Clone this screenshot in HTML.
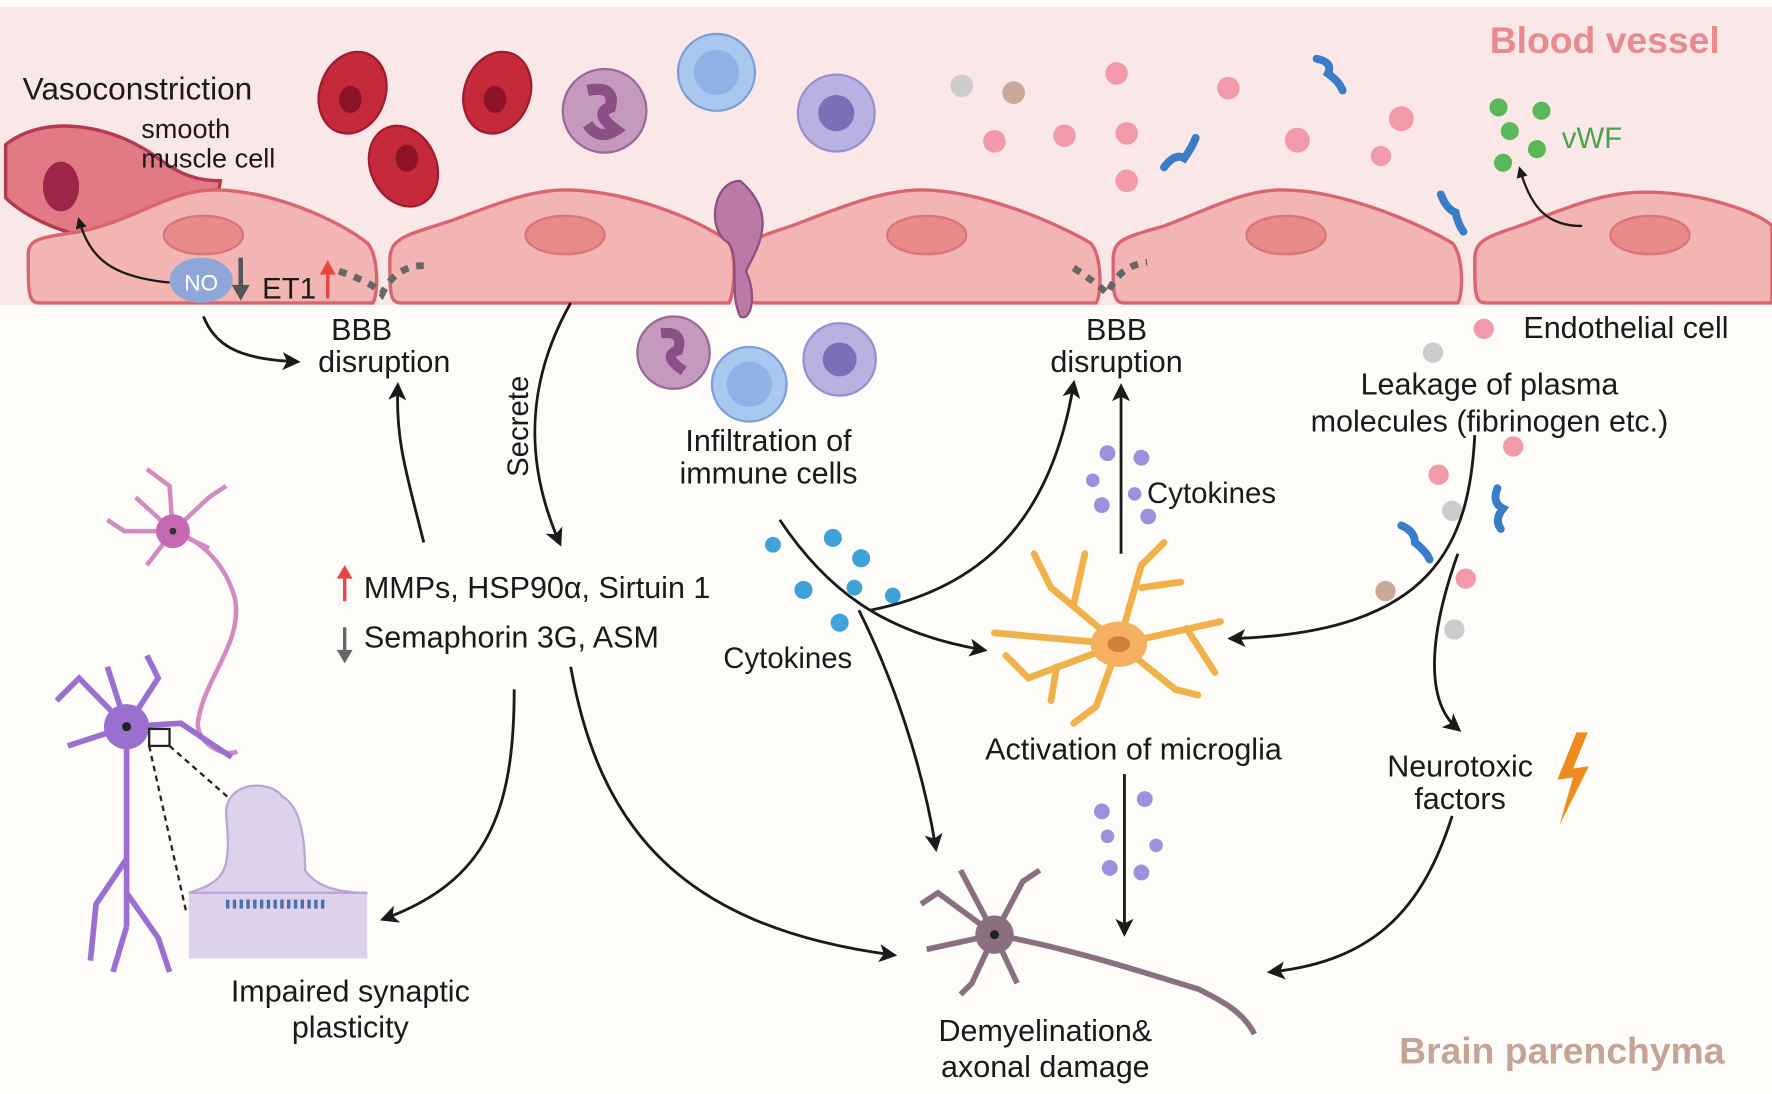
<!DOCTYPE html>
<html><head><meta charset="utf-8"><style>
html,body{margin:0;padding:0;background:#fdfcf9;}
svg{display:block;}
text{font-family:"Liberation Sans",sans-serif;fill:#1a1a1a;}
</style></head><body>
<svg width="1772" height="1094" viewBox="0 0 1568 968" xmlns="http://www.w3.org/2000/svg">
<defs>
<marker id="ah" markerWidth="10" markerHeight="10" refX="7" refY="5" orient="auto" markerUnits="userSpaceOnUse" viewBox="0 0 10 10"><path d="M0,0 L10,5 L0,10 z" fill="#1a1a1a"/></marker>
<marker id="ahb" markerWidth="16" markerHeight="16" refX="12" refY="8" orient="auto" markerUnits="userSpaceOnUse" viewBox="0 0 16 16"><path d="M0,0 L16,8 L0,16 L4,8 z" fill="#1a1a1a"/></marker>
</defs>
<rect width="1568" height="968" fill="#fdfcf9"/>
<rect x="0" y="6" width="1568" height="264" fill="#f9e8e7"/>
<text x="1420" y="47" font-size="33" font-weight="bold" style="fill:#e88a8e" text-anchor="middle">Blood vessel</text>
<text x="1382" y="941" font-size="33" font-weight="bold" style="fill:#c4a595" text-anchor="middle">Brain parenchyma</text>

<path d="M5,128 C40,100 100,110 140,140 C160,155 175,160 195,160 L193,172 C150,180 120,200 80,210 C50,205 20,190 5,175 Z" fill="#e27a85" stroke="#b43a4d" stroke-width="3"/>
<ellipse cx="54" cy="165" rx="16" ry="22" fill="#9e2448"/>
<g fill="#f2b5b3" stroke="#d9656e" stroke-width="3">
<path d="M25,225 C25,210 40,210 70,205 C120,195 150,168 190,168 C240,168 300,195 325,215 C335,225 335,260 330,268 L35,268 C25,268 25,260 25,225 Z"/>
<path d="M345,230 C345,210 360,208 400,195 C440,180 470,168 500,168 C560,168 630,200 645,215 C652,225 650,260 645,268 L355,268 C345,268 345,260 345,230 Z"/>
<path d="M660,230 C660,212 670,210 700,200 C740,185 780,168 815,168 C870,168 940,200 965,215 C975,225 975,260 970,268 L670,268 C660,268 660,260 660,230 Z"/>
<path d="M985,230 C985,212 995,210 1030,200 C1070,185 1100,168 1135,168 C1190,168 1260,200 1285,215 C1295,225 1295,260 1290,268 L995,268 C985,268 985,260 985,230 Z"/>
<path d="M1305,230 C1305,212 1315,210 1350,198 C1390,182 1420,170 1455,170 C1510,170 1560,190 1568,200 L1568,268 L1315,268 C1305,268 1305,260 1305,230 Z"/>
</g>
<g fill="#e8898a" stroke="#d9757a" stroke-width="2">
<ellipse cx="180" cy="208" rx="35" ry="17"/><ellipse cx="500" cy="208" rx="35" ry="17"/><ellipse cx="820" cy="208" rx="35" ry="17"/><ellipse cx="1138" cy="208" rx="35" ry="17"/><ellipse cx="1460" cy="208" rx="35" ry="17"/>
</g>
<ellipse cx="178" cy="248" rx="28" ry="20" fill="#8fa7d8"/>
<text x="178" y="257" font-size="20" text-anchor="middle" style="fill:#fff">NO</text>
<path d="M213,228 L213,255" stroke="#555" stroke-width="4"/><path d="M205,252 L213,266 L221,252 z" fill="#555"/>
<text x="232" y="264" font-size="26">ET1</text>
<path d="M290,264 L290,240" stroke="#e84545" stroke-width="3"/><path d="M283,243 L290,230 L297,243 z" fill="#e84545"/>
<path d="M300,240 Q330,250 338,260 Q350,235 375,235" fill="none" stroke="#666" stroke-width="6" stroke-dasharray="7,7"/>
<path d="M950,237 Q970,250 980,260 Q990,235 1015,232" fill="none" stroke="#666" stroke-width="6" stroke-dasharray="7,7"/>
<path d="M150,250 C100,245 80,230 70,195" fill="none" stroke="#1a1a1a" stroke-width="2" marker-end="url(#ah)"/>
<text x="20" y="88" font-size="28">Vasoconstriction</text>
<text x="125" y="122" font-size="24">smooth</text>
<text x="125" y="148" font-size="24">muscle cell</text>

<g fill="#c52a3b" stroke="#a01b2e" stroke-width="2">
<ellipse cx="312" cy="82" rx="29" ry="37" transform="rotate(20 312 82)"/>
<ellipse cx="440" cy="82" rx="29" ry="37" transform="rotate(20 440 82)"/>
<ellipse cx="357" cy="147" rx="29" ry="37" transform="rotate(-25 357 147)"/>
</g>
<g fill="#8c1426"><ellipse cx="310" cy="88" rx="10" ry="12"/><ellipse cx="438" cy="88" rx="10" ry="12"/><ellipse cx="360" cy="140" rx="10" ry="12"/></g>
<circle cx="535" cy="98" r="37" fill="#c598be" stroke="#9a6a95" stroke-width="2"/>
<path d="M520,80 Q545,75 540,95 Q525,100 545,115 Q530,125 520,110" fill="none" stroke="#8a4f85" stroke-width="10"/>
<circle cx="634" cy="64" r="34" fill="#a9c8ef" stroke="#7aa0d6" stroke-width="2"/><circle cx="634" cy="64" r="20" fill="#8fb2e6"/>
<circle cx="740" cy="100" r="34" fill="#b8b2e3" stroke="#9890cf" stroke-width="2"/><circle cx="740" cy="100" r="16" fill="#7a70b8"/>
<path d="M655,160 C630,160 625,205 645,215 C655,230 645,260 655,280 C665,285 670,260 660,240 C670,220 690,190 655,160 Z" fill="#b97aa6" stroke="#8e5081" stroke-width="2"/>
<circle cx="596" cy="312" r="32" fill="#c598be" stroke="#9a6a95" stroke-width="2"/>
<path d="M585,295 Q605,292 600,310 Q585,315 605,328" fill="none" stroke="#8a4f85" stroke-width="9"/>
<circle cx="663" cy="340" r="33" fill="#a9c8ef" stroke="#7aa0d6" stroke-width="2"/><circle cx="663" cy="340" r="20" fill="#8fb2e6"/>
<circle cx="743" cy="318" r="32" fill="#b8b2e3" stroke="#9890cf" stroke-width="2"/><circle cx="743" cy="318" r="15" fill="#7a70b8"/>
<g>
<circle cx="851" cy="76" r="10" fill="#ccc"/><circle cx="897" cy="82" r="10" fill="#c9a89a"/>
<g fill="#f29aaa"><circle cx="988" cy="65" r="10"/><circle cx="1087" cy="78" r="10"/><circle cx="880" cy="125" r="10"/><circle cx="942" cy="120" r="10"/><circle cx="997" cy="118" r="10"/><circle cx="1148" cy="124" r="11"/><circle cx="1240" cy="105" r="11"/><circle cx="1222" cy="138" r="9"/><circle cx="997" cy="160" r="10"/><circle cx="1313" cy="291" r="9"/><circle cx="1273" cy="420" r="9"/><circle cx="1297" cy="512" r="9"/><circle cx="1339" cy="395" r="9"/></g>
<circle cx="1268" cy="312" r="9" fill="#ccc"/><circle cx="1285" cy="452" r="9" fill="#ccc"/><circle cx="1287" cy="557" r="9" fill="#ccc"/><circle cx="1226" cy="523" r="9" fill="#c9a89a"/>
<g fill="none" stroke="#3a7cc7" stroke-width="7" stroke-linecap="round"><path d="M1165,52 Q1180,55 1175,65 Q1185,72 1188,80"/><path d="M1030,148 Q1040,135 1048,140 Q1055,130 1058,122"/><path d="M1275,172 Q1280,185 1288,188 Q1290,198 1295,205"/><path d="M1325,432 Q1320,445 1330,450 Q1322,460 1328,468"/><path d="M1240,465 Q1252,470 1252,480 Q1262,488 1265,495"/></g>
<g fill="#5ab85a"><circle cx="1326" cy="95" r="8"/><circle cx="1364" cy="98" r="8"/><circle cx="1336" cy="116" r="8"/><circle cx="1360" cy="132" r="8"/><circle cx="1330" cy="144" r="8"/></g>
<text x="1382" y="131" font-size="26" style="fill:#4aa34a">vWF</text>
<path d="M1400,200 C1370,200 1355,185 1345,150" fill="none" stroke="#1a1a1a" stroke-width="2" marker-end="url(#ah)"/>
</g>
<text x="1348" y="299" font-size="27">Endothelial cell</text>

<text x="320" y="301" font-size="27" text-anchor="middle">BBB</text>
<text x="340" y="329" font-size="27" text-anchor="middle">disruption</text>
<text x="988" y="301" font-size="27" text-anchor="middle">BBB</text>
<text x="988" y="329" font-size="27" text-anchor="middle">disruption</text>
<text x="1318" y="349" font-size="27" text-anchor="middle">Leakage of plasma</text>
<text x="1318" y="382" font-size="27" text-anchor="middle">molecules (fibrinogen etc.)</text>
<text x="680" y="399" font-size="27" text-anchor="middle">Infiltration of</text>
<text x="680" y="428" font-size="27" text-anchor="middle">immune cells</text>
<text x="1015" y="445" font-size="26">Cytokines</text>
<text x="640" y="591" font-size="26">Cytokines</text>
<text transform="translate(467 422) rotate(-90)" font-size="26">Secrete</text>
<path d="M305,532 L305,510" stroke="#e84545" stroke-width="3"/><path d="M298,512 L305,500 L312,512 z" fill="#e84545"/>
<text x="322" y="529" font-size="27">MMPs, HSP90α, Sirtuin 1</text>
<path d="M305,555 L305,577" stroke="#666" stroke-width="3"/><path d="M298,575 L305,587 L312,575 z" fill="#666"/>
<text x="322" y="573" font-size="27">Semaphorin 3G, ASM</text>
<text x="1003" y="672" font-size="27" text-anchor="middle">Activation of microglia</text>
<text x="1292" y="687" font-size="27" text-anchor="middle">Neurotoxic</text>
<text x="1292" y="716" font-size="27" text-anchor="middle">factors</text>
<text x="310" y="886" font-size="27" text-anchor="middle">Impaired synaptic</text>
<text x="310" y="918" font-size="27" text-anchor="middle">plasticity</text>
<text x="925" y="921" font-size="27" text-anchor="middle">Demyelination&amp;</text>
<text x="925" y="953" font-size="27" text-anchor="middle">axonal damage</text>
<path d="M1395,648 L1378,690 L1392,688 L1380,730 L1406,678 L1392,680 L1405,648 z" fill="#f08a1c"/>

<g fill="#3ea3d8"><circle cx="684" cy="482" r="7"/><circle cx="737" cy="476" r="8"/><circle cx="762" cy="494" r="8"/><circle cx="711" cy="522" r="8"/><circle cx="756" cy="520" r="7"/><circle cx="790" cy="527" r="7"/><circle cx="743" cy="551" r="8"/></g>
<g fill="#9d91db"><circle cx="980" cy="401" r="7"/><circle cx="1010" cy="405" r="7"/><circle cx="967" cy="425" r="6"/><circle cx="1004" cy="437" r="6"/><circle cx="975" cy="447" r="7"/><circle cx="1016" cy="457" r="7"/>
<circle cx="975" cy="718" r="7"/><circle cx="1013" cy="707" r="7"/><circle cx="980" cy="740" r="6"/><circle cx="1023" cy="748" r="6"/><circle cx="982" cy="768" r="7"/><circle cx="1010" cy="772" r="7"/></g>

<g stroke="#f0b14a" stroke-width="6" fill="none" stroke-linecap="round">
<path d="M990,570 L930,520 L915,490"/><path d="M950,535 L960,490"/><path d="M990,570 L1010,500 L1030,480"/><path d="M1010,520 L1045,515"/><path d="M990,570 L1080,550"/><path d="M1050,556 L1075,595"/><path d="M990,570 L1040,610 L1060,615"/><path d="M990,570 L970,625 L950,640"/><path d="M990,570 L910,600 L890,580"/><path d="M935,590 L930,620"/><path d="M990,570 L880,560"/>
</g>
<ellipse cx="990" cy="570" rx="25" ry="20" fill="#f5b060"/><ellipse cx="990" cy="570" rx="10" ry="7" fill="#d0803a"/>

<g stroke="#d28ac0" stroke-width="4" fill="none">
<path d="M155,470 C180,480 200,500 208,530 C215,570 180,600 175,640 C175,660 200,670 210,665"/>
<path d="M153,470 L120,440 M153,470 L110,470 L95,460 M153,470 L130,500 M153,470 L150,430 L130,415 M153,470 L185,440 L200,430 M153,470 L185,485"/>
</g>
<circle cx="153" cy="470" r="15" fill="#c769b2"/><circle cx="153" cy="470" r="3" fill="#333"/>
<g stroke="#9a6fd0" stroke-width="5" fill="none">
<path d="M112,643 L112,820 M112,760 L85,800 L80,850 M112,790 L140,830 L150,860 M112,820 L100,860 M112,643 L70,600 L50,620 M112,643 L95,590 M112,643 L140,600 L130,580 M112,643 L160,640 L205,670 M112,643 L60,660"/>
</g>
<circle cx="112" cy="643" r="20" fill="#9a6fd0"/><circle cx="112" cy="643" r="4" fill="#222"/>
<rect x="132" y="645" width="18" height="15" fill="none" stroke="#222" stroke-width="2"/>
<path d="M132,660 L165,808 M150,660 L215,717" stroke="#222" stroke-width="2" stroke-dasharray="5,4"/>
<path d="M167,790 L325,790 L325,848 L167,848 Z" fill="#ddd1ec"/>
<path d="M200,720 C200,690 240,690 250,705 C270,715 270,760 270,770 C280,785 300,790 325,790 L167,790 C200,780 205,770 200,720 Z" fill="#ddd1ec" stroke="#b8a6d6" stroke-width="2"/>
<path d="M200,800 L290,800" stroke="#4a6fb0" stroke-width="8" stroke-dasharray="3,3"/>
<g stroke="#8a6f80" stroke-width="5" fill="none">
<path d="M880,827 L830,790 L815,800 M880,827 L850,770 M880,827 L905,780 L920,770 M880,827 L820,840 M880,827 L860,870 L850,880 M880,827 L900,870"/>
<path d="M880,827 C950,840 1010,860 1060,875 C1080,885 1100,895 1110,915"/>
</g>
<circle cx="880" cy="827" r="17" fill="#8a6f80"/><circle cx="880" cy="827" r="4" fill="#222"/>

<g fill="none" stroke="#1a1a1a" stroke-width="2.5">
<path d="M180,280 C190,305 210,318 262,320" marker-end="url(#ahb)"/>
<path d="M375,480 C360,420 350,390 352,342" marker-end="url(#ahb)"/>
<path d="M505,268 C470,330 460,400 495,480" marker-end="url(#ahb)"/>
<path d="M455,610 C455,720 430,780 340,813" marker-end="url(#ahb)"/>
<path d="M505,590 C530,730 600,820 790,845" marker-end="url(#ahb)"/>
<path d="M690,460 C730,520 780,560 870,575" marker-end="url(#ahb)"/>
<path d="M770,540 C870,520 930,460 950,340" marker-end="url(#ahb)"/>
<path d="M760,540 C800,620 820,700 828,750" marker-end="url(#ahb)"/>
<path d="M992,490 L992,343" marker-end="url(#ahb)"/>
<path d="M995,685 L995,825" marker-end="url(#ahb)"/>
<path d="M1305,385 C1300,480 1270,560 1090,565" marker-end="url(#ahb)"/>
<path d="M1290,490 C1265,560 1260,620 1290,645" marker-end="url(#ahb)"/>
<path d="M1285,722 C1260,800 1220,850 1125,860" marker-end="url(#ahb)"/>
</g>
</svg>
</body></html>
